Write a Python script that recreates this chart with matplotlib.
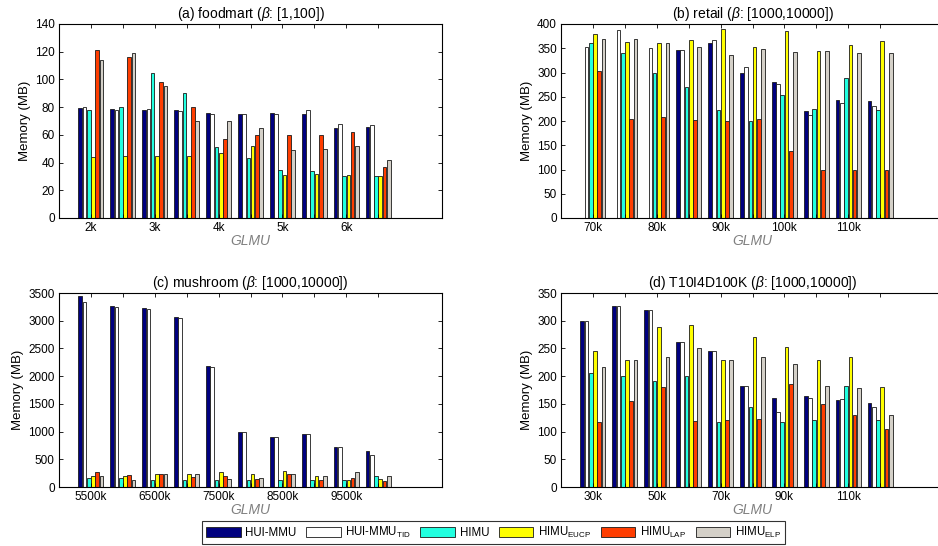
import numpy as np
import matplotlib
matplotlib.use("Agg")
import matplotlib.pyplot as plt

plt.rcParams['font.family'] = ['Liberation Sans', 'DejaVu Sans']
plt.rcParams['mathtext.fontset'] = 'custom'
plt.rcParams['mathtext.rm'] = 'Liberation Sans'
plt.rcParams['mathtext.it'] = 'Liberation Sans:italic'

series_names = [r'HUI-MMU', r'HUI-MMU$_{\mathrm{TID}}$', r'HIMU',
                r'HIMU$_{\mathrm{EUCP}}$', r'HIMU$_{\mathrm{LAP}}$', r'HIMU$_{\mathrm{ELP}}$']
series_colors = ['#00007F', '#FFFFFF', '#22FFE0', '#FFFF00', '#FF3D00', '#D4D0C8']

# (a) foodmart
a_labels = ['2k', '', '3k', '', '4k', '', '5k', '', '6k', '']
a_hui_mmu = [79.5, 79, 78, 78, 76, 75, 76, 75, 65, 66]
a_hui_tid = [80, 78, 79, 77, 75, 75, 75, 78, 68, 67]
a_himu    = [78, 80, 105, 90, 51, 43, 35, 34, 30, 30]
a_eucp    = [44, 45, 45, 45, 47, 52, 31, 32, 31, 30]
a_lap     = [121, 116, 98, 80, 57, 60, 60, 60, 62, 37]
a_elp     = [114, 119, 95, 70, 70, 65, 49, 50, 52, 42]

# (b) retail
b_labels = ['70k', '', '80k', '', '90k', '', '100k', '', '110k', '']
b_hui_mmu = [0, 0, 0, 347, 361, 300, 280, 221, 244, 241]
b_hui_tid = [352, 388, 350, 347, 367, 311, 276, 212, 237, 231]
b_himu    = [360, 340, 300, 270, 222, 200, 253, 224, 288, 222]
b_eucp    = [380, 362, 360, 367, 389, 353, 386, 344, 356, 365]
b_lap     = [303, 205, 208, 202, 199, 205, 138, 100, 99, 100]
b_elp     = [370, 370, 361, 352, 336, 348, 342, 344, 341, 340]

# (c) mushroom
c_labels = ['5500k', '', '6500k', '', '7500k', '', '8500k', '', '9500k', '']
c_hui_mmu = [3440, 3270, 3230, 3070, 2180, 990, 910, 960, 730, 650]
c_hui_tid = [3340, 3250, 3210, 3050, 2170, 990, 910, 960, 730, 570]
c_himu    = [170, 170, 130, 120, 130, 120, 130, 130, 130, 190]
c_eucp    = [200, 200, 240, 240, 270, 230, 290, 190, 130, 150]
c_lap     = [270, 220, 230, 180, 200, 140, 230, 120, 160, 110]
c_elp     = [190, 130, 240, 240, 140, 170, 240, 190, 270, 190]

# (d) T10I4D100K
d_labels = ['30k', '', '50k', '', '70k', '', '90k', '', '110k', '']
d_hui_mmu = [300, 327, 320, 262, 246, 182, 161, 164, 157, 152]
d_hui_tid = [300, 327, 320, 262, 246, 183, 136, 161, 159, 145]
d_himu    = [206, 200, 191, 200, 118, 144, 118, 120, 182, 120]
d_eucp    = [245, 229, 289, 293, 230, 270, 253, 230, 234, 181]
d_lap     = [118, 155, 180, 119, 120, 123, 186, 150, 130, 105]
d_elp     = [217, 229, 234, 250, 230, 235, 222, 182, 178, 129]

panels = [
    ('(a) foodmart ($\\beta$: [1,100])', a_labels,
     [a_hui_mmu, a_hui_tid, a_himu, a_eucp, a_lap, a_elp], 140, 20),
    ('(b) retail ($\\beta$: [1000,10000])', b_labels,
     [b_hui_mmu, b_hui_tid, b_himu, b_eucp, b_lap, b_elp], 400, 50),
    ('(c) mushroom ($\\beta$: [1000,10000])', c_labels,
     [c_hui_mmu, c_hui_tid, c_himu, c_eucp, c_lap, c_elp], 3500, 500),
    ('(d) T10I4D100K ($\\beta$: [1000,10000])', d_labels,
     [d_hui_mmu, d_hui_tid, d_himu, d_eucp, d_lap, d_elp], 350, 50),
]

W, H = 938, 546
fig = plt.figure(figsize=(W / 100, H / 100), dpi=100)

ax_w = 383 / W
ax_h = 194 / H
positions = [
    (59 / W, 1 - 218 / H),
    (561 / W, 1 - 218 / H),
    (59 / W, 1 - 487 / H),
    (561 / W, 1 - 487 / H),
]

n = 6
slot = 0.8 / n
bw = slot * 0.85
handles = None
for (title, labels, data, ymax, ystep), (x0, y0) in zip(panels, positions):
    ax = fig.add_axes([x0, y0, ax_w, ax_h])
    x = np.arange(1, len(labels) + 1)
    hs = []
    for i, (vals, col, name) in enumerate(zip(data, series_colors, series_names)):
        off = (i - (n - 1) / 2) * slot
        h = ax.bar(x + off, vals, width=bw, color=col, edgecolor='#1a1a1a',
                   linewidth=0.6, label=name)
        hs.append(h)
    handles = hs
    ax.set_xlim(0, 12)
    ax.set_ylim(0, ymax)
    ax.set_yticks(np.arange(0, ymax + 1, ystep))
    ax.set_xticks(x)
    ax.set_xticklabels(labels)
    ax.tick_params(direction='in', top=True, right=True, length=3, width=0.6,
                   labelsize=8.5, pad=3)
    for s in ax.spines.values():
        s.set_linewidth(0.8)
    ax.set_title(title, fontsize=10, pad=4)
    ax.set_ylabel('Memory (MB)', fontsize=9.5, labelpad=3)
    ax.set_xlabel('GLMU', fontsize=10, color='#808080', style='italic', labelpad=0)

leg = fig.legend(handles, series_names, loc='lower left',
                 bbox_to_anchor=(202 / W, 2 / H, (785 - 202) / W, (544 - 517) / H),
                 mode='expand', ncol=6, fontsize=8.3, frameon=True, fancybox=False,
                 edgecolor='black', handlelength=3.0, handleheight=0.9,
                 handletextpad=0.4, columnspacing=0.6, borderaxespad=0.0,
                 borderpad=0.35)
leg.get_frame().set_linewidth(0.8)

fig.savefig('out.png', dpi=100)
